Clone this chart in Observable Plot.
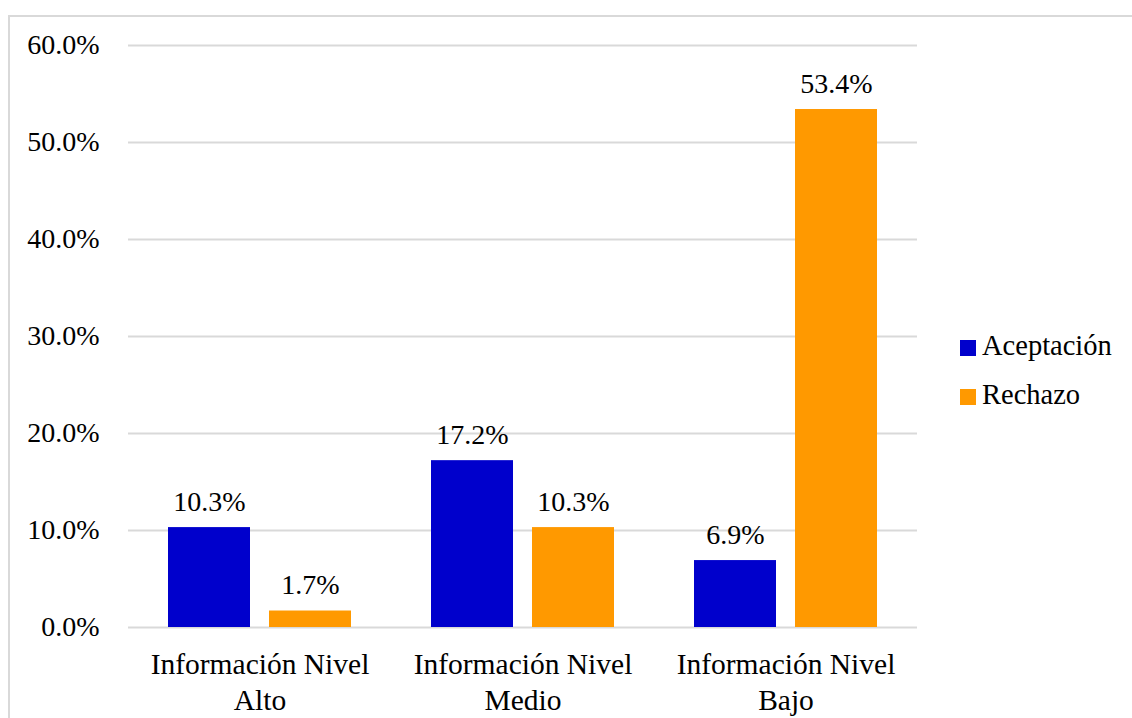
<!DOCTYPE html>
<html>
<head>
<meta charset="utf-8">
<script src="https://cdn.jsdelivr.net/npm/d3@7"></script>
<script src="https://cdn.jsdelivr.net/npm/@observablehq/plot@0.6"></script>
<style>
  html, body { margin: 0; padding: 0; background: #fff; }
  #wrap { position: relative; width: 1132px; height: 718px; overflow: hidden; font-family: 'Liberation Serif', serif; }
  #wrap svg { position: absolute; left: 0; top: 0; }
  #frame { position: absolute; left: 8px; top: 15px; width: 1200px; height: 800px; border: 2px solid #d9d9d9; pointer-events: none; }
  .sw { position: absolute; width: 16px; height: 16px; }
  .lbl { position: absolute; font-size: 28.5px; line-height: 1; color: #000; white-space: nowrap; }
</style>
</head>
<body>
<div id="wrap"></div>
<script>
// Nivel de información y actitud (aceptación / rechazo), en proporción del total
const categories = ["Información Nivel Alto", "Información Nivel Medio", "Información Nivel Bajo"];
const categoryLabels = ["Información Nivel\nAlto", "Información Nivel\nMedio", "Información Nivel\nBajo"];
const seriesNames = ["Aceptación", "Rechazo"];
const seriesColors = ["#0000CC", "#FF9900"];
const aceptacion = [0.103, 0.172, 0.069];
const rechazo = [0.017, 0.103, 0.534];
const yTicks = [0, 0.1, 0.2, 0.3, 0.4, 0.5, 0.6];

const rows = [];
categories.forEach((c, i) => {
  rows.push({category: c, series: seriesNames[0], value: aceptacion[i]});
  rows.push({category: c, series: seriesNames[1], value: rechazo[i]});
});

const pct = d3.format(".1%");
const labelOf = new Map(categories.map((c, i) => [c, categoryLabels[i]]));
const serif = "Liberation Serif";

const chart = Plot.plot({
  width: 1132,
  height: 718,
  marginLeft: 127,
  marginRight: 214,
  marginTop: 45,
  marginBottom: 91,
  style: {fontFamily: serif, color: "#000", background: "transparent"},
  fx: {domain: categories, padding: 0, label: null, axis: null},
  x: {domain: seriesNames, paddingInner: 0.186, paddingOuter: 0.385, axis: null},
  y: {domain: [0, 0.6], ticks: yTicks, label: null, axis: null},
  color: {domain: seriesNames, range: seriesColors},
  marks: [
    Plot.gridY(yTicks, {stroke: "#d9d9d9", strokeOpacity: 1, strokeWidth: 2}),
    Plot.barY(rows, {fx: "category", x: "series", y: "value", fill: "series"}),
    // value labels above each bar
    Plot.text(rows, {
      fx: "category", x: "series", y: "value",
      text: d => pct(d.value),
      lineAnchor: "bottom", dy: -17, fontSize: 28, fill: "#000", fontFamily: serif
    }),
    Plot.axisY(yTicks, {
      anchor: "left", tickSize: 0, tickPadding: 29, fontSize: 28, fontFamily: serif,
      tickFormat: pct, label: null
    }),
    Plot.axisFx({
      anchor: "bottom", tickSize: 0, tickPadding: 22, fontSize: 29.5, lineHeight: 1.19,
      fontFamily: serif, tickFormat: c => labelOf.get(c), label: null
    })
  ]
});

const wrap = document.getElementById("wrap");
wrap.appendChild(chart);

const frame = document.createElement("div");
frame.id = "frame";
wrap.appendChild(frame);

// legend on the right: swatch + series name
seriesNames.forEach((name, i) => {
  const top = 340 + 48.5 * i;
  const sw = document.createElement("div");
  sw.className = "sw";
  sw.style.left = "960px";
  sw.style.top = top + "px";
  sw.style.background = seriesColors[i];
  const lbl = document.createElement("div");
  lbl.className = "lbl";
  lbl.style.left = "982px";
  lbl.style.top = (top - 8) + "px";
  lbl.textContent = name;
  wrap.append(sw, lbl);
});
</script>
</body>
</html>
